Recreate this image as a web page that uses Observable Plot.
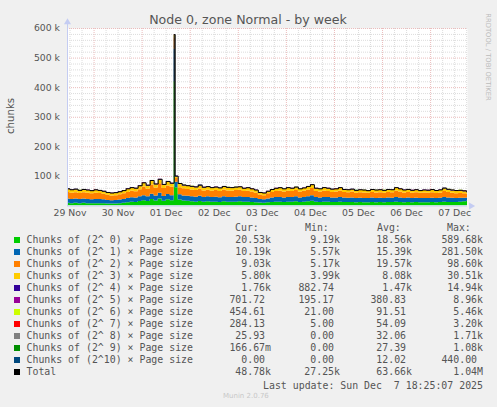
<!DOCTYPE html>
<html><head><meta charset="utf-8">
<script src="https://cdn.jsdelivr.net/npm/d3@7"></script>
<script src="https://cdn.jsdelivr.net/npm/@observablehq/plot@0.6"></script>
<style>
body{margin:0;background:#f0f0f0;}
#wrap{position:relative;width:497px;height:407px;overflow:hidden;background:#f0f0f0;font-family:"DejaVu Sans",sans-serif;color:#555;}
.abs{position:absolute;white-space:pre;}
.mono{font-family:"DejaVu Sans Mono",monospace;font-size:9.9px;line-height:12px;height:12px;}
</style></head><body><div id="wrap"></div>
<script>
// ---- data (values in thousands of chunks) ----
const seriesNames = ["Chunks of (2^ 0) × Page size","Chunks of (2^ 1) × Page size","Chunks of (2^ 2) × Page size","Chunks of (2^ 3) × Page size","Chunks of (2^ 4) × Page size","Chunks of (2^ 5) × Page size","Chunks of (2^ 6) × Page size","Chunks of (2^ 7) × Page size","Chunks of (2^ 8) × Page size","Chunks of (2^ 9) × Page size","Chunks of (2^10) × Page size"];
const seriesColors = ["#00CC00","#0066B3","#FF8000","#FFCC00","#330099","#990099","#CCFF00","#FF0000","#808080","#008F00","#00487D"];
const totalName = "Total";
const totalColor = "#000000";

// 2-hour samples from 29 Nov 10:00 to 07 Dec 18:00 (101 each)
const g0 = [9,8,9,8,9,8,8, 8,8,8,7,7,7,8,9,11,13,12,15, 18,15,22,17,24,16,21,18,62,20,17,16, 14,13,15,13,14,13,13,12,14,13,13,13, 14,13,13,12,11,10,9,11,12,13,13,12, 13,13,14,12,13,14,16,13,12,13,13,12, 12,13,12,12,12,11,12,11,11,12,11,12, 11,12,12,13,12,11,12,11,12,11,11,11, 12,11,12,13,12,12,12,13,14,16];
const g1 = [15,14,15,14,15,14,13, 14,14,13,12,11,12,12,13,14,15,15,16, 17,16,18,17,19,16,18,17,18,18,17,17, 17,17,18,16,17,16,17,16,17,16,16,17, 17,16,16,15,14,12,12,13,15,16,16,15, 16,16,17,15,16,17,19,16,15,16,16,15, 15,16,15,14,15,14,14,14,14,15,14,14, 14,15,14,16,15,14,15,14,14,14,14,14, 14,14,14,16,15,14,13,13,12,11];
const g2 = [22,21,21,20,21,21,20, 21,20,19,17,16,16,18,19,21,22,21,24, 29,26,31,27,32,27,29,28,13,24,24,23, 23,22,24,22,22,21,22,21,23,22,21,22, 22,20,21,20,18,15,14,17,19,20,21,20, 21,20,21,20,21,22,24,20,20,21,20,19, 20,21,19,19,20,18,19,19,18,19,19,19, 18,19,19,21,20,19,19,18,19,18,19,18, 19,17,18,20,19,17,16,16,15,12];
const g3 = [10,10,10,9,9,9,9, 10,9,8,8,8,8,8,9,10,10,10,11, 12,11,13,11,13,11,12,11,5,11,10,10, 10,10,11,10,10,10,10,10,10,10,10,10, 10,9,10,9,9,7,7,7,8,9,10,9, 10,9,10,9,9,11,11,9,9,10,9,9, 9,10,8,8,8,8,8,8,7,8,8,8, 8,8,8,10,9,8,8,8,8,7,8,8, 8,8,8,9,8,8,8,8,7,6];
// 12-hour samples (17 each)
const g4 = [1.4,1.3,1.5,1.6,2.0,1.8,1.5,1.4,1.3,1.4,1.5,1.4,1.3,1.4,1.5,1.6,1.76];
const g5 = [0.35,0.30,0.40,0.45,0.55,0.45,0.38,0.36,0.35,0.40,0.38,0.37,0.36,0.38,0.40,0.50,0.70];
const g6 = [0.08,0.07,0.09,0.10,0.15,0.12,0.09,0.08,0.08,0.09,0.09,0.08,0.08,0.09,0.10,0.20,0.45];
const g7 = [0.05,0.04,0.05,0.06,0.10,0.08,0.05,0.05,0.04,0.05,0.05,0.05,0.04,0.05,0.05,0.10,0.28];
const g8 = [0.03,0.02,0.03,0.04,0.08,0.05,0.03,0.03,0.02,0.03,0.03,0.03,0.02,0.03,0.03,0.04,0.03];
const g9 = [0.03,0.02,0.03,0.03,0.10,0.05,0.03,0.02,0.02,0.03,0.02,0.02,0.02,0.02,0.03,0.02,0.00];
const g10 = [0.01,0.01,0.01,0.02,0.04,0.02,0.01,0.01,0.01,0.01,0.01,0.01,0.01,0.01,0.01,0.01,0.00];
// 30-minute spike on 01 Dec 16:00
const spikeValues = [420,110,38,10,1.2,0.3,0.1,0.05,0.03,0.03,0.01];

// legend text
const curVals = ["20.53k","10.19k","9.03k","5.80k","1.76k","701.72 ","454.61 ","284.13 ","25.93 ","166.67m","0.00 ","48.78k"];
const minVals = ["9.19k","5.57k","5.17k","3.99k","882.74 ","195.17 ","21.00 ","5.00 ","0.00 ","0.00 ","0.00 ","27.25k"];
const avgVals = ["18.56k","15.39k","19.57k","8.08k","1.47k","380.83 ","91.51 ","54.09 ","32.06 ","27.39 ","12.02 ","63.66k"];
const maxVals = ["589.68k","281.50k","98.60k","30.51k","14.94k","8.96k","5.46k","3.20k","1.71k","1.08k","440.00 ","1.04M"];
const colHeaders = ["Cur:","Min:","Avg:","Max:"];
const yTickValues = [100,200,300,400,500,600];
const titleText = "Node 0, zone Normal - by week";
const yLabel = "chunks";
const lastUpdate = "Last update: Sun Dec  7 18:25:07 2025";
const sideText = "RRDTOOL / TOBI OETIKER";
const footer = "Munin 2.0.76";

// ---- build table ----
const H = 3600e3;
const t0 = Date.UTC(2025,10,29,10,0);
const xStart = new Date(Date.UTC(2025,10,29,10,44));
const xEnd = new Date(Date.UTC(2025,11,7,18,25));
const spikeStart = Date.UTC(2025,11,1,16,0), spikeEnd = Date.UTC(2025,11,1,16,30);
const fine = [g0,g1,g2,g3];
const coarse = [g4,g5,g6,g7,g8,g9,g10];
const valueAt = (s,i) => s < 4 ? fine[s][i] : coarse[s-4][Math.floor(i/6)];
const rows = [];
const push = (t, getter) => seriesNames.forEach((name,s) => rows.push({time:new Date(t), series:name, value:getter(s)*1000}));
for (let i = 0; i < g0.length; i++) {
  let t = t0 + i*2*H;
  if (t === spikeStart) { push(t, s => spikeValues[s]); t = spikeEnd; }
  push(t, s => valueAt(s,i));
}
push(xEnd.getTime(), s => valueAt(s, g0.length-1));
const totals = d3.rollups(rows, v => d3.sum(v, d => d.value), d => +d.time)
  .map(([t,v]) => ({time:new Date(t), total:v})).sort((a,b)=>a.time-b.time);

// grid positions
const minorX = d3.utcHour.every(6).range(xStart, xEnd).filter(d => d.getUTCHours() !== 0);
const majorX = d3.utcDay.range(xStart, xEnd);
const noonTicks = d3.utcDay.range(xStart, xEnd).map(d => new Date(d.getTime() - 12*H));
noonTicks.push(new Date(noonTicks[noonTicks.length-1].getTime() + 24*H));
const yMax = 600000;
const minorY = d3.range(20000, yMax+1, 20000).filter(v => v % 100000 !== 0);
const majorY = yTickValues.map(v => v*1000);
const axisColor = "#c4ccf2";
const arrowX = new Date(xEnd.getTime() + (xEnd - xStart)*0.009);

const chart = Plot.plot({
  width: 497, height: 222,
  marginLeft: 67, marginRight: 30, marginTop: 28, marginBottom: 16.5,
  style: {background:"transparent", fontFamily:"DejaVu Sans", fontSize:"9.3px", color:"#555", overflow:"visible"},
  x: {type:"utc", domain:[xStart, xEnd]},
  y: {domain:[0, yMax]},
  color: {domain: seriesNames, range: seriesColors},
  marks: [
    Plot.frame({fill:"white", stroke:null}),
    Plot.ruleY(minorY, {stroke:"#dcdcdc", strokeDasharray:"1,1"}),
    Plot.ruleX(minorX, {stroke:"#dcdcdc", strokeDasharray:"1,1"}),
    Plot.ruleY(majorY, {stroke:"#ebbcbc", strokeDasharray:"1,1"}),
    Plot.ruleX(majorX, {stroke:"#ebbcbc", strokeDasharray:"1,1"}),
    Plot.areaY(rows, Plot.stackY({x:"time", y:"value", z:"series", fill:"series", order: seriesNames, curve:"step-after", clip:true})),
    Plot.lineY(totals, {x:"time", y:"total", stroke: totalColor, strokeWidth:1, curve:"step-after", clip:true}),
    Plot.ruleY([0], {stroke: axisColor}),
    Plot.ruleX([xStart], {y1:0, y2:yMax*1.035, stroke: axisColor}),
    Plot.dot([{x:xStart, y:yMax*1.035}], {x:"x", y:"y", symbol:"triangle", r:2.6, fill:axisColor, stroke:null}),
    Plot.dot([{x:arrowX, y:0}], {x:"x", y:"y", symbol:"triangle", r:2.6, rotate:90, fill:axisColor, stroke:null}),
    Plot.axisY({ticks: majorY, tickFormat: d => (d/1000) + " k", tickSize:0, tickPadding:7.5, label:null}),
    Plot.axisX({ticks: noonTicks, tickFormat: d3.utcFormat("%d %b"), tickSize:0, tickPadding:3.5, label:null})
  ]
});

const wrap = document.getElementById("wrap");
chart.style.position = "absolute"; chart.style.left = "0px"; chart.style.top = "0px";
wrap.appendChild(chart);

function addDiv(text, css, cls) {
  const d = document.createElement("div");
  d.className = "abs" + (cls ? " " + cls : "");
  d.textContent = text;
  Object.assign(d.style, css);
  wrap.appendChild(d);
  return d;
}
addDiv(titleText, {left:"0px", width:"496px", textAlign:"center", top:"11.5px", fontSize:"12.6px", lineHeight:"16px", color:"#555"});
addDiv(yLabel, {left:"10.8px", top:"115.5px", fontSize:"10.2px", lineHeight:"12px", color:"#555", transform:"translate(-50%,-50%) rotate(-90deg)"});
addDiv(sideText, {left:"487.5px", top:"56.5px", fontSize:"6.8px", lineHeight:"8px", color:"#bbb", transform:"translate(-50%,-50%) rotate(90deg)"});

// legend
const colLeft = [235,305,377,447];
colHeaders.forEach((h,k) => addDiv(h, {left:colLeft[k]+"px", top:(228-6)+"px"}, "mono"));
const colRight = [271,340,412,483];
const labels = seriesNames.concat([totalName]);
const swatches = seriesColors.concat([totalColor]);
const cols = [curVals, minVals, avgVals, maxVals];
labels.forEach((name,i) => {
  const cy = 240 + 12*i;
  const sw = document.createElement("div");
  Object.assign(sw.style, {position:"absolute", left:"14px", top:(cy-3)+"px", width:"6px", height:"6px", background:swatches[i]});
  wrap.appendChild(sw);
  addDiv(name, {left:"26.5px", top:(cy-6)+"px"}, "mono");
  cols.forEach((col,k) => addDiv(col[i], {right:(497-colRight[k])+"px", top:(cy-6)+"px", textAlign:"right"}, "mono"));
});
addDiv(lastUpdate, {right:(497-483)+"px", top:(386-6)+"px", textAlign:"right"}, "mono");
addDiv(footer, {left:"223px", top:"392px", fontSize:"7px", lineHeight:"8px", color:"#c8c8c8"});
</script>
</body></html>
